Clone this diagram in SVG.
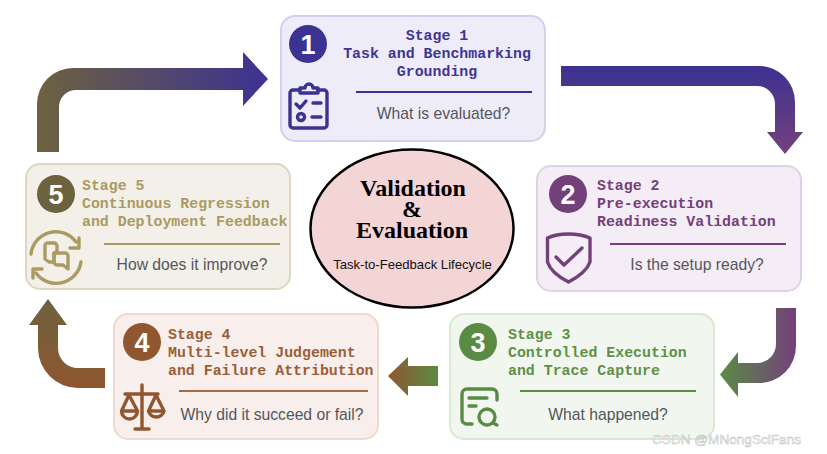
<svg xmlns="http://www.w3.org/2000/svg" width="827" height="454" viewBox="0 0 827 454">
<style>
.card{stroke-width:2}
.st{font-family:"Liberation Mono",monospace;font-weight:700;font-size:14.9px}
.q{font-family:"Liberation Sans",Arial,sans-serif;font-size:15.7px;fill:#55565c;text-anchor:middle}
.num{font-family:"Liberation Sans",Arial,sans-serif;font-weight:700;font-size:27px;fill:#fff;text-anchor:middle}
.ic{fill:none;stroke-width:3.4;stroke-linecap:round;stroke-linejoin:round}
.rule{stroke-width:2}
</style>
<defs>
<linearGradient id="g12" gradientUnits="userSpaceOnUse" x1="0" y1="66" x2="0" y2="154"><stop offset="0" stop-color="#3c3292"/><stop offset="1" stop-color="#74407c"/></linearGradient>
<linearGradient id="g23" gradientUnits="userSpaceOnUse" x1="796" y1="0" x2="720" y2="0"><stop offset="0" stop-color="#74407c"/><stop offset="1" stop-color="#5a8b44"/></linearGradient>
<linearGradient id="g34" gradientUnits="userSpaceOnUse" x1="438" y1="0" x2="388" y2="0"><stop offset="0" stop-color="#5a8b44"/><stop offset="1" stop-color="#8f5630"/></linearGradient>
<linearGradient id="g45" gradientUnits="userSpaceOnUse" x1="0" y1="388" x2="0" y2="299"><stop offset="0" stop-color="#8f5630"/><stop offset="1" stop-color="#6d623f"/></linearGradient>
<linearGradient id="g51" gradientUnits="userSpaceOnUse" x1="37" y1="0" x2="268" y2="0"><stop offset="0" stop-color="#6d623f"/><stop offset="1" stop-color="#3c3292"/></linearGradient>
</defs>
<g id="connectors">
<path fill="url(#g12)" d="M561 66H759A36 36 0 0 1 795 102V132H803L785 154L767 132H775V104A18 18 0 0 0 757 86H561Z"/>
<path fill="url(#g23)" d="M796 308V346A37 37 0 0 1 759 383H738V397L720 374.5L738 352V363H757A19 19 0 0 0 776 344V308Z"/>
<path fill="url(#g34)" d="M438 366V386H408V396L388 376L408 357V366Z"/>
<path fill="url(#g45)" d="M105 368V388H78A40 40 0 0 1 38 348V325H29L48 299L67 325H58V348A20 20 0 0 0 78 368Z"/>
<path fill="url(#g51)" d="M37 152V104A36 36 0 0 1 73 68H243V52L268 79L243 106V90H76A17 17 0 0 0 59 107V152Z"/>
</g>
<g id="node1">
<rect class="card" x="281" y="16" width="264" height="125" rx="14" fill="#eeecf9" stroke="#d3cfee"/>
<circle cx="308" cy="44" r="19" fill="#3c3292"/><text class="num" x="308" y="54">1</text>
<g fill="#3f3594">
<text class="st" x="437" y="39.5" text-anchor="middle">Stage 1</text>
<text class="st" x="437" y="57.5" text-anchor="middle">Task and Benchmarking</text>
<text class="st" x="437" y="75.5" text-anchor="middle">Grounding</text></g>
<line class="rule" x1="356" y1="92" x2="532" y2="92" stroke="#3c3292"/>
<text class="q" x="443.500" y="119">What is evaluated?</text>
<g class="ic" stroke="#3c3292"><path d="M299 90H293A3 3 0 0 0 290 93V125A3 3 0 0 0 293 128H324A3 3 0 0 0 327 125V93A3 3 0 0 0 324 90H318"/><path d="M300 93V88H305A4 4 0 0 1 313 88H318V93Z"/><path d="M296 104L300 108L306 101M313 103H321"/><circle cx="301" cy="117" r="3.500"/><path d="M312 117H321"/></g>
</g>
<g id="node2">
<rect class="card" x="537" y="166" width="264" height="125" rx="14" fill="#f4edf5" stroke="#e2d1e6"/>
<circle cx="568" cy="194" r="19" fill="#74407c"/><text class="num" x="568" y="204">2</text>
<g fill="#74407c">
<text class="st" x="597" y="189.500">Stage 2</text>
<text class="st" x="597" y="207.500">Pre-execution</text>
<text class="st" x="597" y="225.500">Readiness Validation</text></g>
<line class="rule" x1="610" y1="244" x2="786" y2="244" stroke="#74407c"/>
<text class="q" x="697" y="270">Is the setup ready?</text>
<g class="ic" stroke="#74407c"><path d="M568.500 234Q556 234 547.500 238V262Q551 273 568.500 282Q586 273 590 262V238Q581 234 568.500 234Z"/><path d="M556 257L564 265L582 248"/></g>
</g>
<g id="node3">
<rect class="card" x="450" y="314" width="264" height="125" rx="14" fill="#f1f6ef" stroke="#d8e9cf"/>
<circle cx="478" cy="342" r="19" fill="#5a8b44"/><text class="num" x="478" y="352">3</text>
<g fill="#5f9049">
<text class="st" x="508" y="338.500">Stage 3</text>
<text class="st" x="508" y="356.500">Controlled Execution</text>
<text class="st" x="508" y="374.500">and Trace Capture</text></g>
<line class="rule" x1="520" y1="391" x2="696" y2="391" stroke="#5a8b44"/>
<text class="q" x="608" y="419.500">What happened?</text>
<g class="ic" stroke="#5a8b44"><path d="M497 400V394A5 5 0 0 0 492 389H467A5 5 0 0 0 462 394V419A5 5 0 0 0 467 424H472"/><path d="M469 398H487M469 406H476"/><circle cx="487" cy="417" r="8"/><path d="M493 423L497 425"/></g>
</g>
<g id="node4">
<rect class="card" x="114" y="314" width="264" height="125" rx="14" fill="#f8efec" stroke="#eed9cc"/>
<circle cx="142" cy="342" r="19" fill="#8f5630"/><text class="num" x="142" y="352">4</text>
<g fill="#9a5f38">
<text class="st" x="168" y="338.500">Stage 4</text>
<text class="st" x="168" y="356.500">Multi-level Judgement</text>
<text class="st" x="168" y="374.500">and Failure Attribution</text></g>
<line class="rule" x1="179" y1="391" x2="368" y2="391" stroke="#a56a45"/>
<text class="q" x="272" y="419.500">Why did it succeed or fail?</text>
<g class="ic" stroke="#8f5630"><path d="M142 385V429M135 429H149M125 394H158"/><path d="M129 395L121.500 411H137.500L129 395M121.500 411A8 8 0 0 0 137.500 411"/><path d="M156 395L148.500 411H164L156 395M148.500 411A8 8 0 0 0 164 411"/></g>
</g>
<g id="node5">
<rect class="card" x="26" y="164" width="264" height="125" rx="14" fill="#f3f0ea" stroke="#dfd6bf"/>
<circle cx="56" cy="194" r="19" fill="#6d623f"/><text class="num" x="56" y="204">5</text>
<g fill="#ab9a62">
<text class="st" x="82" y="189.500">Stage 5</text>
<text class="st" x="82" y="207.500">Continuous Regression</text>
<text class="st" x="82" y="225.500">and Deployment Feedback</text></g>
<line class="rule" x1="104" y1="244" x2="280" y2="244" stroke="#ab9a62"/>
<text class="q" x="192" y="270">How does it improve?</text>
<g class="ic" stroke="#ab9a62"><path d="M31 254A25 25 0 0 1 76 242M79 238V248H70"/><path d="M81 262A25 25 0 0 1 36 273M33 278V269H42"/><path d="M47 243H54A3 3 0 0 1 57 246V253H54V262H49L45 259V246A3 3 0 0 1 47 243Z"/><path d="M54 253H65A3 3 0 0 1 68 256V269L63 265H57A3 3 0 0 1 54 262Z"/></g>
</g>
<g id="center">
<ellipse cx="412" cy="228.500" rx="101.500" ry="79" fill="#f3d5d6" stroke="#000" stroke-width="2.500"/>
<g font-family="'Liberation Serif','Times New Roman',serif" font-weight="700" font-size="24px" text-anchor="middle" fill="#000">
<text x="413" y="196">Validation</text>
<text x="412" y="217">&amp;</text>
<text x="412" y="238">Evaluation</text></g>
<text x="412.500" y="269" font-family="'Liberation Sans',Arial,sans-serif" font-size="13.100px" text-anchor="middle" fill="#111">Task-to-Feedback Lifecycle</text>
</g>
<text x="652" y="443.500" font-family="'Liberation Sans',Arial,sans-serif" font-size="13.600px" fill="#fff" stroke="#bbb" stroke-width=".5">CSDN @MNongSciFans</text>
</svg>
